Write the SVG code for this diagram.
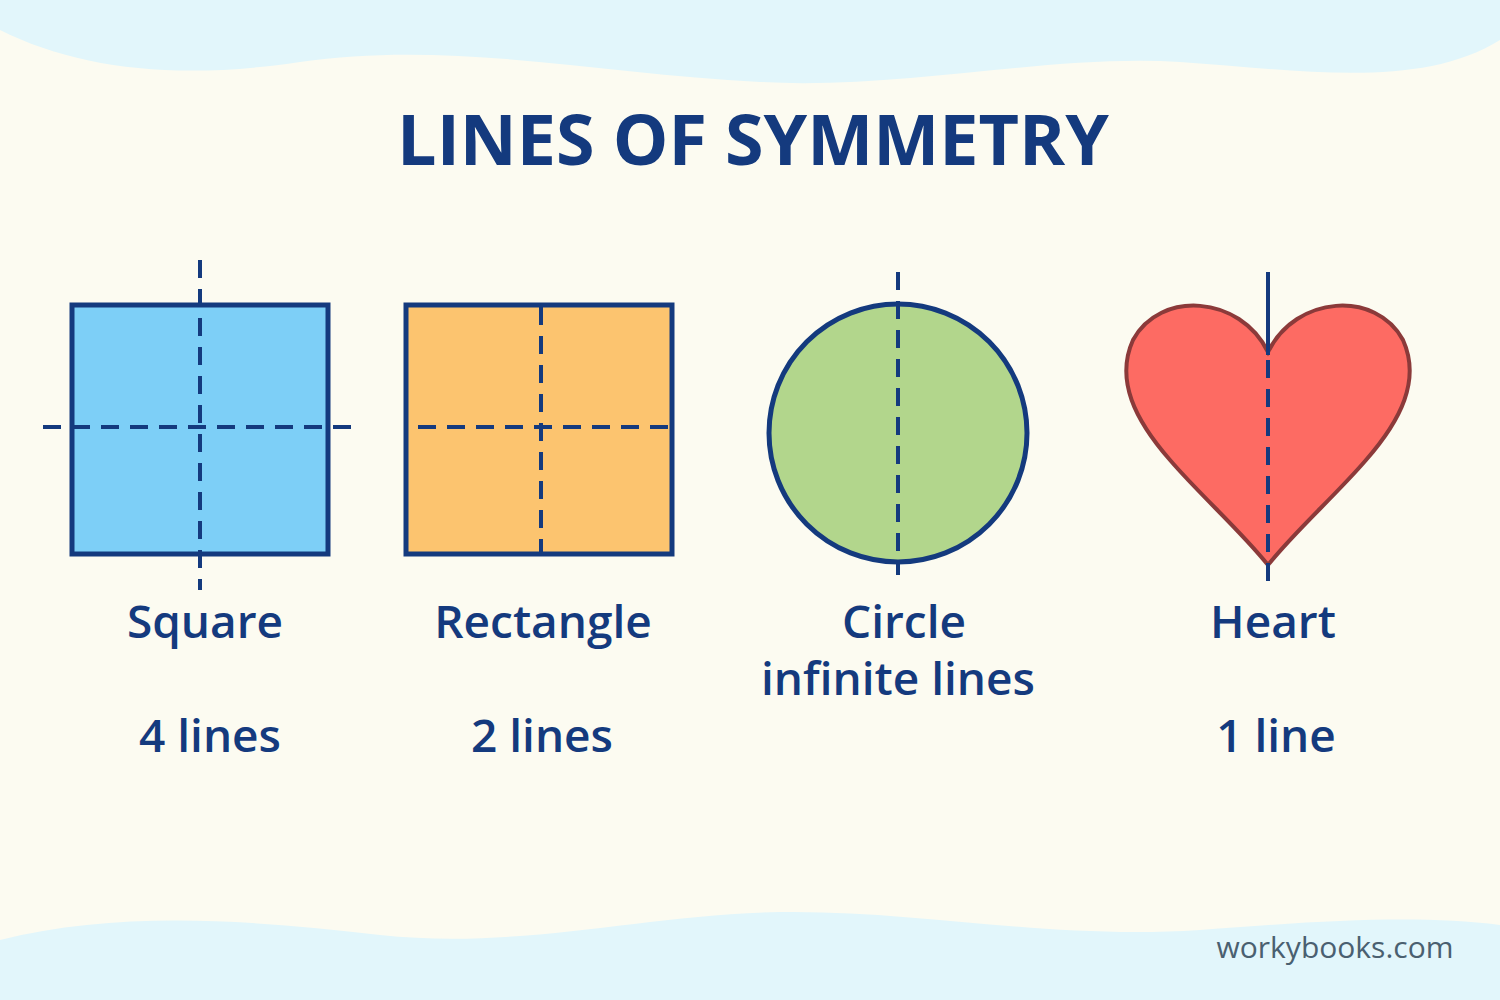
<svg xmlns="http://www.w3.org/2000/svg" width="1500" height="1000" viewBox="0 0 1500 1000">
<style>
.t{font-family:"Open Sans","Liberation Sans",sans-serif;fill:#143A7E;text-anchor:middle;font-weight:600;font-size:46px}
.sh{stroke:#143A7E;stroke-width:5}
.d{stroke:#143A7E;stroke-width:4;stroke-dasharray:18 11;fill:none}
</style>
<rect width="1500" height="1000" fill="#FCFBF1"/>
<path d="M0 0H1500V40C1420 90 1300 70 1180 62C1050 54 900 90 760 82C600 74 450 40 300 62C180 80 80 70 0 30Z" fill="#E2F6FB"/>
<path d="M0 940C120 910 250 920 380 935C520 950 640 915 780 912C920 910 1050 940 1200 930C1330 920 1420 915 1500 925V1000H0Z" fill="#E2F6FB"/>
<text x="753" y="165" class="t" style="font-size:70px;font-weight:700">LINES OF SYMMETRY</text>
<g id="square">
<rect x="72" y="305" width="256" height="249" fill="#7DCFF7" class="sh"/>
<text x="205" y="638" class="t">Square</text>
<text x="210" y="752" class="t">4 lines</text>
</g>
<g id="rectangle">
<rect x="406" y="305" width="266" height="249" fill="#FCC46F" class="sh"/>
<text x="543" y="638" class="t">Rectangle</text>
<text x="542" y="752" class="t">2 lines</text>
</g>
<g id="circle">
<circle cx="898" cy="433" r="129" fill="#B2D68C" class="sh"/>
<text x="904" y="638" class="t">Circle</text>
<text x="898" y="695" class="t">infinite lines</text>
</g>
<g id="heart">
<path d="M1268 352C1240 295 1160 290 1133 340C1115 380 1135 420 1170 460C1200 495 1240 530 1268 565C1296 530 1336 495 1366 460C1401 420 1421 380 1403 340C1376 290 1296 295 1268 352Z" fill="#FD6B63" stroke="#8B3A3A" stroke-width="4"/>
<text x="1273" y="638" class="t">Heart</text>
<text x="1276" y="752" class="t">1 line</text>
</g>
<g id="connectors">
<line x1="200" y1="260" x2="200" y2="590" class="d"/>
<line x1="43" y1="427" x2="358" y2="427" class="d"/>
<line x1="541" y1="307" x2="541" y2="552" class="d"/>
<line x1="418" y1="427" x2="670" y2="427" class="d"/>
<line x1="898" y1="272" x2="898" y2="575" class="d"/>
<line x1="1268" y1="272" x2="1268" y2="355" stroke="#143A7E" stroke-width="4"/>
<line x1="1268" y1="360" x2="1268" y2="582" class="d"/>
</g>
<text x="1335" y="958" style="font-family:'Open Sans','Liberation Sans',sans-serif;font-size:30px;fill:#4A6070;text-anchor:middle">workybooks.com</text>
</svg>
